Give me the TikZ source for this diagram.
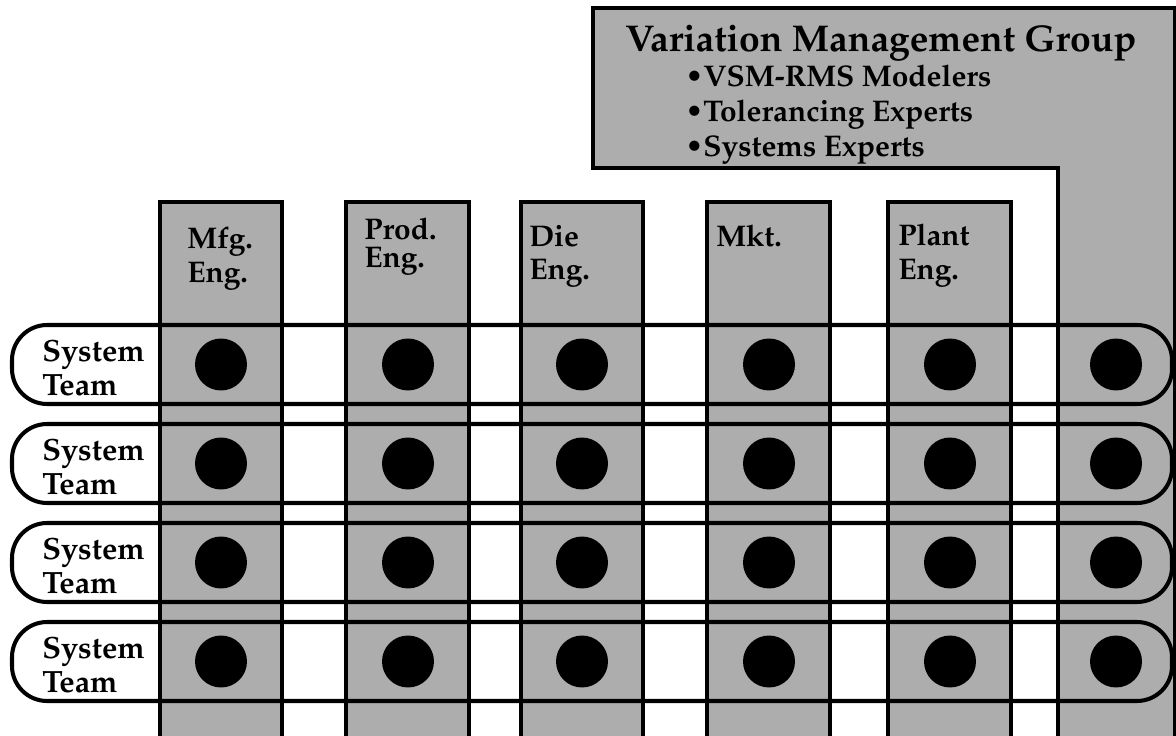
\documentclass[tikz,border=0pt]{standalone}
\usepackage[T1]{fontenc}
\usepackage{mathpazo}

\begin{document}
\begin{tikzpicture}[x=0.02cm,y=-0.02cm,
    halftone/.style={fill=black!32},
    heavy/.style={line width=2.3pt},
    dept/.style={anchor=north west,inner sep=0pt,align=left,
        font={\fontsize{17}{19}\selectfont\bfseries}},
    team/.style={anchor=west,inner sep=0pt,align=left,
        font={\fontsize{17.5}{19.5}\selectfont\bfseries}},
    member/.style={circle,fill=black,inner sep=0pt,minimum size=1.04cm}]
\useasboundingbox (0,0) rectangle (1176,736);
\clip (0,0) rectangle (1176,736);

% variation management group: banner plus its own column
\draw[heavy,halftone] (593,8) -- (1175,8) -- (1175,760) -- (1058,760)
    -- (1058,168) -- (593,168) -- cycle;
\node[anchor=base west,inner sep=0pt,font={\fontsize{21.2}{24}\selectfont\bfseries}]
    (vmg) at (625,52) {Variation Management Group};
\foreach \who [count=\i] in {VSM-RMS Modelers,Tolerancing Experts,Systems Experts}
    \node[anchor=base west,inner sep=0pt,font={\fontsize{17}{18}\selectfont\bfseries}]
        (vmg-\i) at (685,52+35*\i) {\textbullet\who};

% functional columns
\foreach \a/\b in {160/282,346/469,521/643,707/830,888/1011}
    \draw[heavy,halftone] (\a,760) |- (\b,202) -- (\b,760);

\node[dept] (mfg) at (187,227) {Mfg.\\Eng.};
\node[dept] (prod) at (364,218) {Prod.\\[-0.12cm]Eng.};
\node[dept] (die) at (529,225) {Die\\Eng.};
\node[dept] (mkt) at (716,225) {Mkt.};
\node[dept] (plant) at (898,224) {Plant\\Eng.};

% system teams cut across all columns
\foreach \t [count=\r] in {325,424,523,622}{
    \draw[heavy,rounded corners=20pt] (12,\t) rectangle (1172,\t+79);
    \node[team] (team-\r) at (42,\t+43) {System\\Team};
    \foreach \x [count=\c] in {221,408,582,769,950,1116}
        \node[member] (m-\r-\c) at (\x,\t+39.5) {};
}
\end{tikzpicture}
\end{document}
